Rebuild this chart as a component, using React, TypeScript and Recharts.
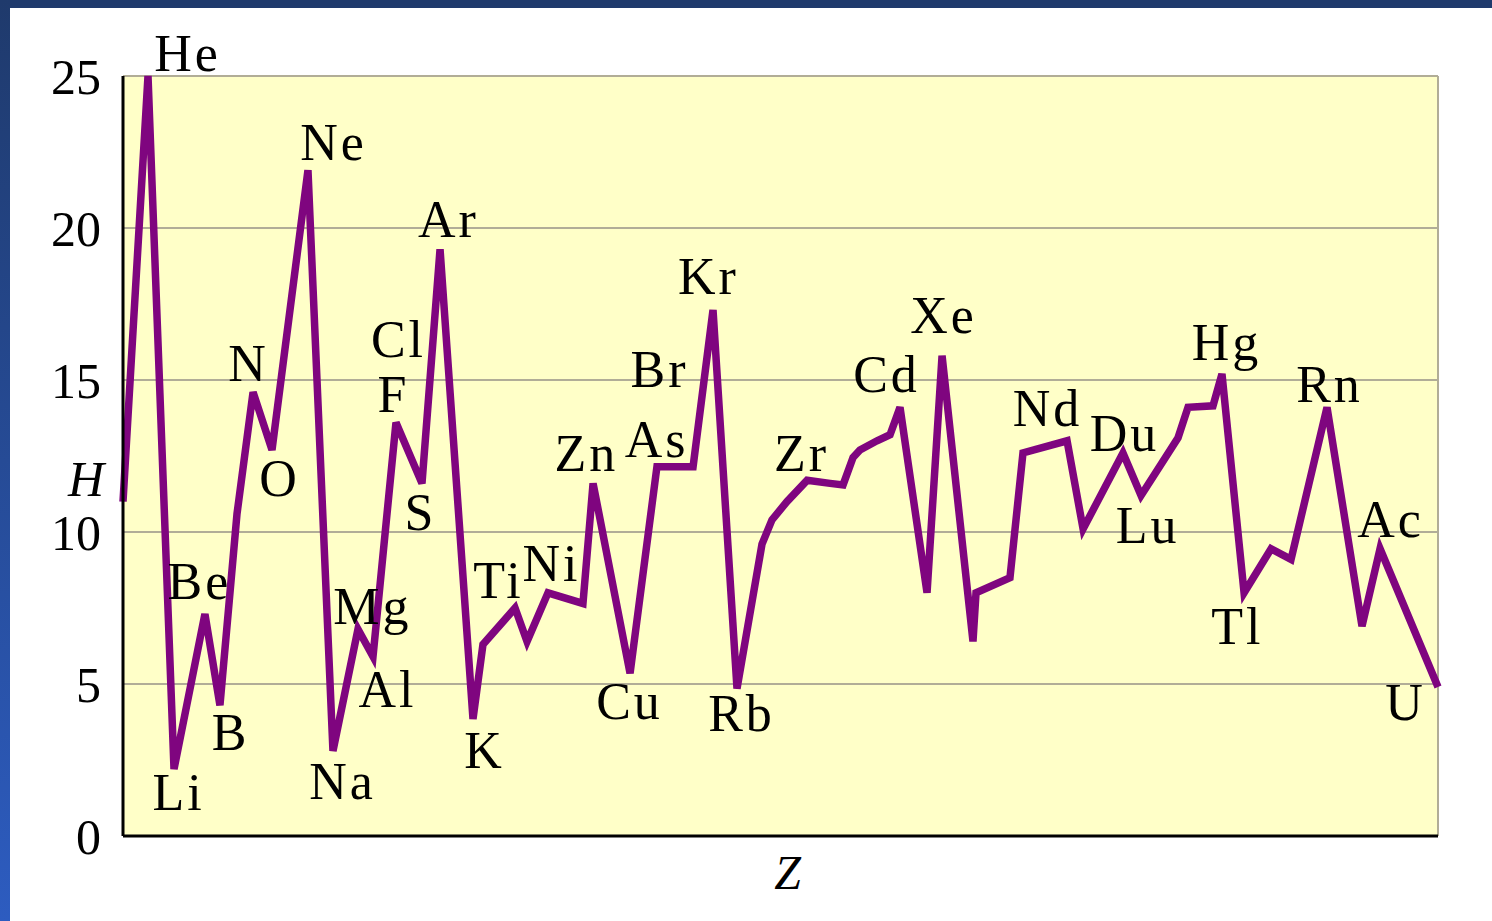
import React from "react";
import {
  LineChart,
  Line,
  XAxis,
  YAxis,
  CartesianGrid,
  ReferenceDot,
  ReferenceLine,
  Label,
} from "recharts";

// vertex positions along the Z axis (as drawn) and first ionization energy H
const zPos = [
  1, 2.73, 4.53, 6.67, 7.71, 8.89, 10.0, 11.31, 13.8, 15.53, 17.26, 18.3, 19.89,
  21.69, 22.94, 25.22, 25.91, 28.13, 28.96, 30.41, 32.83, 33.53, 36.09, 37.95,
  40.45, 41.83, 43.49, 45.22, 45.91, 46.95, 48.34, 49.93, 50.83, 51.52, 52.0,
  53.18, 54.08, 54.77, 56.64, 57.68, 59.82, 60.03, 62.38, 63.28, 66.33, 67.44,
  70.2, 71.45, 74.01, 74.7, 76.43, 77.05, 78.58, 80.45, 81.83, 84.32, 86.74,
  87.99, 92,
];
const energy = [
  11.0, 25.0, 2.2, 7.3, 4.3, 10.6, 14.6, 12.7, 21.9, 2.8, 6.8, 5.9, 13.6, 11.6,
  19.3, 3.85, 6.3, 7.5, 6.4, 8.0, 7.65, 11.6, 5.35, 12.15, 12.15, 17.3, 4.85,
  9.6, 10.4, 11.0, 11.7, 11.6, 11.55, 12.45, 12.7, 13.0, 13.2, 14.1, 8.0, 15.8,
  6.4, 8.0, 8.5, 12.6, 13.0, 10.1, 12.6, 11.2, 13.1, 14.1, 14.15, 15.2, 8.0,
  9.45, 9.1, 14.1, 6.9, 9.45, 4.9,
];

const yTicks = [0, 5, 10, 15, 20, 25];

// element symbols written on the chart, anchored in data units
const symbols = [
  "He", "Ne", "Ar", "N", "Cl", "F", "O", "S", "Be", "Mg", "Al", "B", "Li",
  "Na", "K", "Ti", "Ni", "Zn", "As", "Cu", "Br", "Kr", "Rb", "Zr", "Cd", "Xe",
  "Nd", "Du", "Lu", "Hg", "Rn", "Tl", "Ac", "U",
];
const symbolZ = [
  5.36, 15.46, 23.42, 9.58, 19.96, 19.62, 11.73, 21.48, 6.19, 18.16, 19.2,
  8.34, 4.74, 16.09, 25.91, 26.88, 30.55, 32.97, 37.82, 35.95, 38.02, 41.41,
  43.7, 47.85, 53.73, 57.68, 64.87, 70.2, 71.8, 77.26, 84.39, 78.02, 88.61,
  89.65,
];
const symbolH = [
  25.77, 22.85, 20.31, 15.59, 16.38, 14.57, 11.78, 10.66, 8.39, 7.57, 4.84,
  3.45, 1.45, 1.81, 2.86, 8.45, 9.01, 12.63, 13.09, 4.47, 15.39, 18.42, 4.05,
  12.63, 15.2, 17.14, 14.08, 13.26, 10.26, 16.28, 14.9, 6.91, 10.43, 4.41,
];

const data = zPos.map((z, i) => ({ z, h: energy[i] }));
const labels = symbols.map((name, i) => ({ name, z: symbolZ[i], h: symbolH[i] }));

const FONT = '"Liberation Serif", "Times New Roman", serif';
const GRID = "#b1ad97";

export default function App() {
  return (
    <div
      style={{
        position: "absolute",
        left: 0,
        top: 0,
        width: 1492,
        height: 921,
        background: "#fff",
        overflow: "hidden",
      }}
    >
      <style>{`.elem-label { letter-spacing: 3px; }`}</style>
      <div style={{ position: "absolute", left: 0, top: 0, width: 1492, height: 8, background: "#1f3a6c" }} />
      <div
        style={{
          position: "absolute",
          left: 0,
          top: 0,
          width: 10,
          height: 921,
          background: "linear-gradient(#1f3a6c, #2d5cc0)",
        }}
      />
      <div style={{ position: "absolute", left: 0, top: 0 }}>
        <LineChart
          width={1492}
          height={921}
          data={data}
          margin={{ top: 76, right: 54, bottom: 0, left: 0 }}
        >
          <CartesianGrid
            vertical={false}
            stroke={GRID}
            strokeWidth={2}
            fill="#ffffc8"
            fillOpacity={1}
          />
          <XAxis
            type="number"
            dataKey="z"
            domain={[1, 92]}
            height={85}
            tick={false}
            tickLine={false}
            axisLine={{ stroke: "#000", strokeWidth: 3 }}
          >
            <Label
              value="Z"
              position="insideTop"
              offset={19}
              dx={7}
              fill="#000"
              fontSize={48}
              fontStyle="italic"
              fontFamily={FONT}
            />
          </XAxis>
          <YAxis
            type="number"
            domain={[0, 25]}
            ticks={yTicks}
            width={123}
            tickLine={false}
            tickSize={6}
            tickMargin={16}
            axisLine={{ stroke: "#000", strokeWidth: 3 }}
            tick={{ fill: "#000", fontSize: 50, fontFamily: FONT }}
          >
            <Label
              value="H"
              position="insideLeft"
              offset={68}
              dy={22}
              fill="#000"
              fontSize={50}
              fontStyle="italic"
              fontFamily={FONT}
            />
          </YAxis>
          <ReferenceLine x={92} stroke={GRID} strokeWidth={2} />
          <Line
            type="linear"
            dataKey="h"
            stroke="#7f057f"
            strokeWidth={7.5}
            dot={false}
            activeDot={false}
            isAnimationActive={false}
          />
          {labels.map((l) => (
            <ReferenceDot
              key={l.name}
              x={l.z}
              y={l.h}
              r={0}
              fill="none"
              stroke="none"
              ifOverflow="visible"
              label={{
                value: l.name,
                position: "center",
                className: "elem-label",
                dx: 1.5,
                fill: "#000",
                fontSize: 52,
                fontFamily: FONT,
              }}
            />
          ))}
        </LineChart>
      </div>
    </div>
  );
}
